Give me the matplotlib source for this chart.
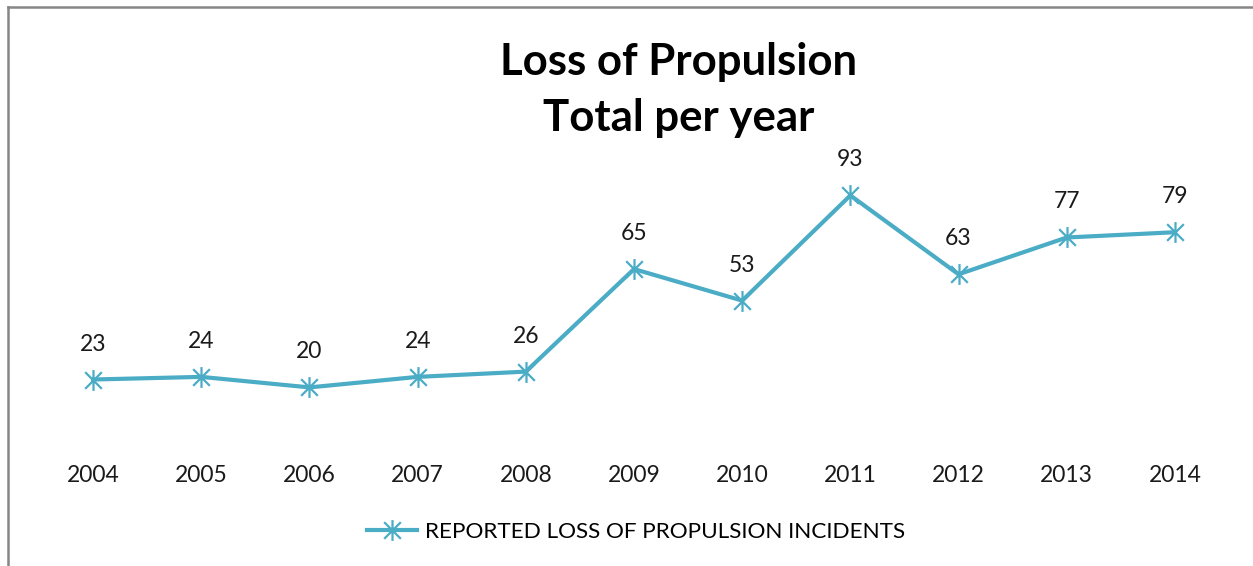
import matplotlib.pyplot as plt
from matplotlib.path import Path
from matplotlib.lines import Line2D

years = ['2004', '2005', '2006', '2007', '2008', '2009', '2010', '2011', '2012', '2013', '2014']
incidents = [23, 24, 20, 24, 26, 65, 53, 93, 63, 77, 79]
seriesName = 'REPORTED LOSS OF PROPULSION INCIDENTS'

plt.rcParams['font.family'] = ['Lato', 'DejaVu Sans']

# Excel style star marker: an x with a vertical bar through it
starMarker = Path([(-1, -1), (1, 1), (-1, 1), (1, -1), (0, -1.25), (0, 1.25)],
                  [Path.MOVETO, Path.LINETO, Path.MOVETO, Path.LINETO, Path.MOVETO, Path.LINETO])

fig = plt.figure(figsize=(12.53, 5.66), dpi=100)
ax = fig.add_axes([39 / 1253, 1 - 440 / 566, (1229 - 39) / 1253, 263 / 566])

xpos = list(range(len(years)))
ax.plot(xpos, incidents, color='#4BACC6', linewidth=3, marker=starMarker,
        markersize=15, markeredgewidth=1.6, markerfacecolor='none',
        markeredgecolor='#4BACC6', label=seriesName)

for x, v in zip(xpos, incidents):
    ax.annotate(str(v), (x, v), xytext=(0, 18), textcoords='offset points',
                ha='center', va='bottom', fontsize=16.5, color='#1a1a1a')

ax.set_xlim(-0.5, len(years) - 0.5)
ax.set_ylim(0, 100)
ax.set_xticks(xpos)
ax.set_xticklabels(years, fontsize=16.5, color='#1a1a1a')
ax.tick_params(axis='x', length=0, pad=18)
ax.set_yticks([])
for s in ax.spines.values():
    s.set_visible(False)

fig.text(679 / 1253, 1 - 62 / 566, 'Loss of Propulsion', ha='center', va='center',
         fontsize=31.5, fontweight='bold', color='black')
fig.text(679 / 1253, 1 - 118 / 566, 'Total per year', ha='center', va='center',
         fontsize=31.5, fontweight='bold', color='black')

fig.legend(loc='center', bbox_to_anchor=(636 / 1253, 1 - 532 / 566), frameon=False,
           fontsize=16.2, handlelength=2.2, handletextpad=0.35)

# chart frame (only top and left edges are visible in the crop)
fig.add_artist(Line2D([8 / 1253, 1.0], [1 - 7 / 566, 1 - 7 / 566], color='#868686', linewidth=1.8))
fig.add_artist(Line2D([8 / 1253, 8 / 1253], [0.0, 1 - 7 / 566], color='#868686', linewidth=1.8))

fig.savefig('out.png', dpi=100)
